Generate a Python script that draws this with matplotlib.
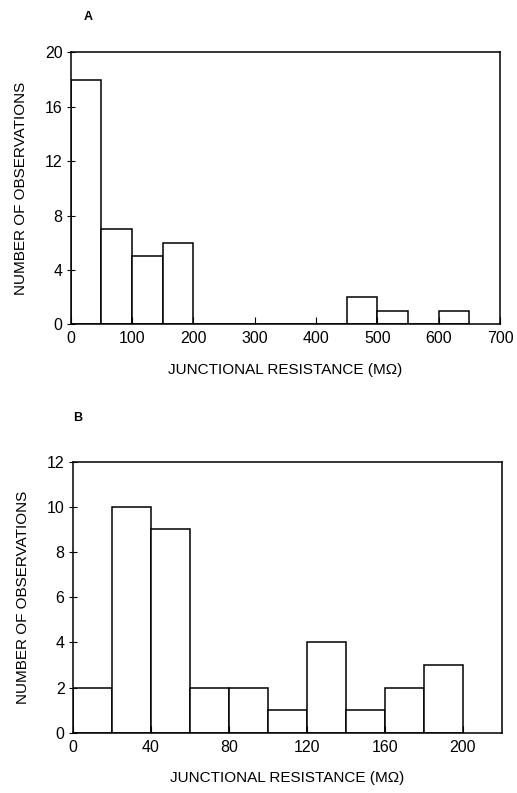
import matplotlib
matplotlib.use("Agg")
import matplotlib.pyplot as plt
import numpy as np

# panel A: bins of 50 MOhm
a_edges = [0, 50, 100, 150, 200, 250, 300, 350, 400, 450, 500, 550, 600, 650]
a_counts = [18, 7, 5, 6, 0, 0, 0, 0, 0, 2, 1, 0, 1]
a_xticks = [0, 100, 200, 300, 400, 500, 600, 700]
a_yticks = [0, 4, 8, 12, 16, 20]

# panel B: bins of 20 MOhm
b_edges = [0, 20, 40, 60, 80, 100, 120, 140, 160, 180, 200]
b_counts = [2, 10, 9, 2, 2, 1, 4, 1, 2, 3]
b_xticks = [0, 40, 80, 120, 160, 200]
b_yticks = [0, 2, 4, 6, 8, 10, 12]

plt.rcParams['font.family'] = ['Liberation Sans', 'DejaVu Sans']

fig = plt.figure(figsize=(5.17, 7.93), dpi=100)
ax1 = fig.add_axes([0.137, 0.591, 0.830, 0.343])
ax2 = fig.add_axes([0.141, 0.076, 0.830, 0.342])


def draw(ax, edges, counts, xticks, yticks, xmax, ymax, letter):
    edges = np.array(edges)
    ax.bar(edges[:-1], counts, width=np.diff(edges), align='edge',
           facecolor='white', edgecolor='black', linewidth=1.1)
    ax.set_xlim(0, xmax)
    ax.set_ylim(0, ymax)
    ax.set_xticks(xticks)
    ax.set_yticks(yticks)
    ax.tick_params(axis='x', direction='in', length=5, labelsize=11.5, pad=5)
    ax.tick_params(axis='y', direction='inout', length=6, labelsize=11.5, pad=3)
    for s in ax.spines.values():
        s.set_linewidth(1.1)
    ax.set_xlabel('JUNCTIONAL RESISTANCE (M\u03a9)', fontsize=11, labelpad=12)
    ax.set_ylabel('NUMBER OF OBSERVATIONS', fontsize=11, labelpad=12)
    ax.text(letter[0], letter[1], letter[2], transform=ax.transAxes,
            fontsize=9, fontweight='bold')


draw(ax1, a_edges, a_counts, a_xticks, a_yticks, 700, 20, (0.03, 1.12, 'A'))
draw(ax2, b_edges, b_counts, b_xticks, b_yticks, 220, 12, (0.0, 1.15, 'B'))

fig.savefig('out.png', dpi=100)
